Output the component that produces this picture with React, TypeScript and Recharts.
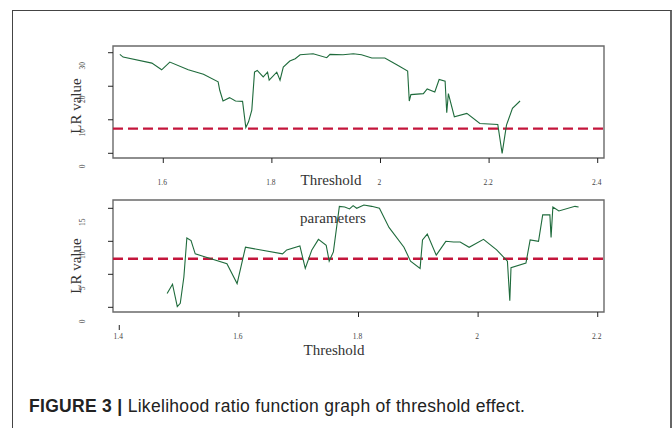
import React from "react";
import { LineChart, Line, XAxis, YAxis, ReferenceLine, ReferenceArea } from "recharts";

const topThreshold = [1.520, 1.526, 1.579, 1.597, 1.612, 1.646, 1.674, 1.701, 1.704, 1.710, 1.722, 1.733, 1.746, 1.752, 1.757, 1.763, 1.768, 1.773, 1.784, 1.792, 1.795, 1.809, 1.815, 1.821, 1.833, 1.843, 1.852, 1.876, 1.901, 1.907, 1.931, 1.950, 1.965, 1.984, 2.008, 2.030, 2.050, 2.053, 2.056, 2.079, 2.086, 2.100, 2.108, 2.119, 2.122, 2.125, 2.136, 2.159, 2.183, 2.216, 2.224, 2.232, 2.243, 2.257];
const topLR = [29.5, 28.7, 26.9, 24.9, 27.2, 24.9, 23.6, 21.3, 18.8, 15.6, 16.6, 15.6, 15.5, 7.7, 9.4, 12.9, 24.2, 24.7, 22.8, 24.2, 21.8, 24.2, 21.8, 25.7, 27.5, 28.2, 29.4, 29.7, 28.5, 29.5, 29.4, 29.7, 29.4, 28.4, 28.4, 26.4, 24.5, 15.6, 17.5, 17.8, 19.2, 18.3, 22.0, 21.5, 12.1, 17.8, 10.9, 11.9, 8.9, 8.6, 0.0, 8.4, 13.4, 15.6];

const bottomThreshold = [1.480, 1.489, 1.497, 1.502, 1.508, 1.513, 1.520, 1.527, 1.580, 1.597, 1.611, 1.673, 1.680, 1.702, 1.711, 1.722, 1.733, 1.746, 1.751, 1.758, 1.768, 1.777, 1.785, 1.791, 1.797, 1.809, 1.822, 1.835, 1.851, 1.876, 1.887, 1.903, 1.907, 1.915, 1.930, 1.946, 1.959, 1.970, 1.985, 2.009, 2.031, 2.049, 2.053, 2.055, 2.080, 2.087, 2.101, 2.108, 2.120, 2.122, 2.125, 2.135, 2.162, 2.168];
const bottomLR = [2.1, 3.5, 0.1, 0.6, 4.6, 10.5, 10.1, 8.1, 6.6, 3.6, 9.1, 8.1, 8.7, 9.3, 5.9, 8.7, 10.3, 9.4, 7.0, 8.4, 15.3, 15.2, 14.9, 15.4, 15.0, 15.5, 15.3, 15.0, 12.1, 9.1, 7.0, 5.9, 10.2, 11.1, 7.9, 10.0, 9.9, 9.9, 9.1, 10.3, 8.7, 7.0, 1.0, 6.0, 6.7, 10.2, 10.0, 14.0, 14.0, 10.6, 15.2, 14.6, 15.3, 15.2];

const topXTicks = [1.6, 1.8, 2, 2.2, 2.4];
const topYTicks = [0, 10, 20, 30];
const bottomXTicks = [1.4, 1.6, 1.8, 2, 2.2];
const bottomYTicks = [0, 5, 10, 15];
const criticalValue = 7.35;

const topData = topThreshold.map((t, i) => ({ t, lr: topLR[i] }));
const bottomData = bottomThreshold.map((t, i) => ({ t, lr: bottomLR[i] }));

const W = 672;
const H = 428;
const serif = '"Liberation Serif", "DejaVu Serif", serif';

const XTick = (props: any) => {
  const { x, y, payload, lowTick } = props;
  const v = payload.value;
  const low = lowTick !== undefined && Math.abs(v - lowTick) < 1e-9;
  const y0 = low ? y + 13 : y;
  return (
    <g>
      <line x1={x} x2={x} y1={y0} y2={y0 + 5} stroke="#222" strokeWidth={1} />
      <text x={x - 1} y={y + 27} textAnchor="middle" fontSize={7.5} fontFamily={serif} fill="#444" stroke="none">
        {String(v)}
      </text>
    </g>
  );
};

const YTick = (props: any) => {
  const { x, y, payload, dy } = props;
  const lx = x - 30;
  const ly = y + dy;
  return (
    <g>
      <line x1={x} x2={x - 5} y1={y} y2={y} stroke="#222" strokeWidth={1} />
      <text x={lx} y={ly} textAnchor="middle" dominantBaseline="central" fontSize={7.5} fontFamily={serif} fill="#444" stroke="none" transform={`rotate(-90 ${lx} ${ly})`}>
        {String(payload.value)}
      </text>
    </g>
  );
};

const Panel = ({ data, xDomain, yDomain, xTicks, yTicks, top, bottom, yDy, lowTick }: any) => (
  <div style={{ position: "absolute", left: 0, top: 0 }}>
    <LineChart width={W} height={H} data={data} margin={{ top, left: 73, right: 68, bottom: bottom - 30 }}>
      <XAxis type="number" dataKey="t" domain={xDomain} ticks={xTicks} allowDataOverflow height={30}
        axisLine={false} tickLine={false} tickSize={0} tickMargin={0} interval={0}
        tick={<XTick lowTick={lowTick} />} />
      <YAxis type="number" domain={yDomain} ticks={yTicks} allowDataOverflow width={40}
        axisLine={false} tickLine={false} tickSize={0} tickMargin={0} interval={0}
        tick={<YTick dy={yDy} />} />
      <ReferenceArea x1={xDomain[0]} x2={xDomain[1]} y1={yDomain[0]} y2={yDomain[1]} fill="none" fillOpacity={0}
        stroke="#6a6a6a" strokeWidth={1.4} ifOverflow="visible" />
      <ReferenceLine y={criticalValue} stroke="#c4163c" strokeWidth={2.4} strokeDasharray="10 5" />
      <Line type="linear" dataKey="lr" stroke="#1f6b3c" strokeWidth={1.1} dot={false} isAnimationActive={false} />
    </LineChart>
  </div>
);

const labelStyle: React.CSSProperties = {
  position: "absolute",
  fontFamily: serif,
  fontSize: 15,
  color: "#333",
  whiteSpace: "nowrap",
  lineHeight: "15px",
};

export default function App() {
  return (
    <div style={{ position: "absolute", left: 0, top: 0, width: W, height: H, background: "#fff", overflow: "hidden" }}>
      <div style={{ position: "absolute", left: 12, top: 10, width: 657, height: 430, borderLeft: "1.5px solid #444", borderTop: "1.5px solid #444", borderRight: "2px solid #666" }} />
      <Panel data={topData} xDomain={[1.5074, 2.4116]} yDomain={[-1.4, 32.0]} xTicks={topXTicks} yTicks={topYTicks}
        top={46} bottom={H - 158} yDy={13} />
      <Panel data={bottomData} xDomain={[1.3895, 2.2105]} yDomain={[-0.71, 16.26]} xTicks={bottomXTicks} yTicks={bottomYTicks}
        top={200} bottom={H - 312} yDy={14} lowTick={1.4} />
      <div style={{ ...labelStyle, left: 331, top: 173, transform: "translateX(-50%)" }}>Threshold</div>
      <div style={{ ...labelStyle, left: 334, top: 343, transform: "translateX(-50%)" }}>Threshold</div>
      <div style={{ ...labelStyle, left: 333, top: 211, transform: "translateX(-50%)" }}>parameters</div>
      <div style={{ ...labelStyle, left: 76, top: 106, transform: "translate(-50%, -50%) rotate(-90deg)" }}>LR value</div>
      <div style={{ ...labelStyle, left: 76, top: 266, transform: "translate(-50%, -50%) rotate(-90deg)" }}>LR value</div>
      <div style={{ position: "absolute", left: 29, top: 396, fontFamily: '"Liberation Sans", Arial, sans-serif', fontSize: 17.5, letterSpacing: 0.3, color: "#222", whiteSpace: "nowrap", lineHeight: "20px" }}>
        <span style={{ fontWeight: "bold" }}>FIGURE 3 | </span>Likelihood ratio function graph of threshold effect.
      </div>
    </div>
  );
}
